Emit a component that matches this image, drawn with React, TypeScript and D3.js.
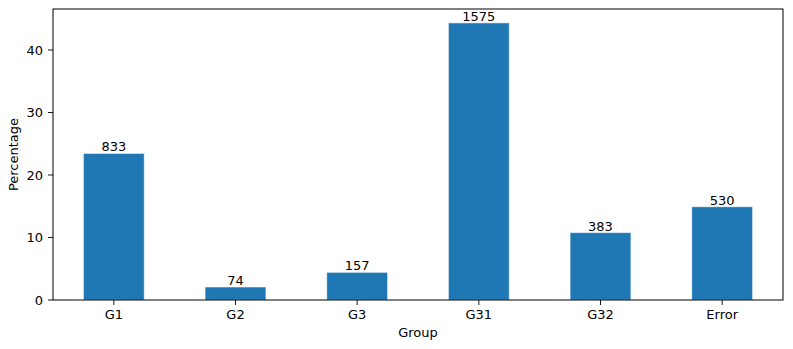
import * as d3 from 'd3';

const groups = ['G1', 'G2', 'G3', 'G31', 'G32', 'Error'];
const percentages = [23.45, 2.08, 4.42, 44.34, 10.78, 14.92];
const counts = [833, 74, 157, 1575, 383, 530];
const yTicks = [0, 10, 20, 30, 40];

const W = 793;
const H = 349;
const m = { left: 53, right: 10, top: 9, bottom: 49 };
const FONT = 'DejaVu Sans, sans-serif';

export default function App() {
  const x = d3.scaleBand().domain(groups).range([m.left, W - m.right]).paddingInner(0.5).paddingOuter(0.25);
  const y = d3.scaleLinear().domain([0, 46.56]).range([H - m.bottom, m.top]);
  const y0 = y(0);

  return (
    <svg width={W} height={H} style={{ position: 'absolute', left: 0, top: 0, fontFamily: FONT }}>
      <rect width={W} height={H} fill="white" />
      {groups.map((g, i) => (
        <g key={g}>
          <rect
            x={x(g)}
            y={y(percentages[i])}
            width={x.bandwidth()}
            height={y0 - y(percentages[i])}
            fill="#1f77b4"
            stroke="rgba(255,255,255,0.55)"
            strokeWidth={1}
          />
          <text x={x(g)! + x.bandwidth() / 2} y={y(percentages[i]) - 2} textAnchor="middle" fontSize={13} fill="#000">
            {counts[i]}
          </text>
          <line x1={x(g)! + x.bandwidth() / 2} x2={x(g)! + x.bandwidth() / 2} y1={y0} y2={y0 + 5} stroke="#000" strokeWidth={0.9} />
          <text x={x(g)! + x.bandwidth() / 2} y={y0 + 19} textAnchor="middle" fontSize={13} fill="#000">
            {g}
          </text>
        </g>
      ))}
      {yTicks.map((t) => (
        <g key={t}>
          <line x1={m.left - 5} x2={m.left} y1={y(t)} y2={y(t)} stroke="#000" strokeWidth={0.9} />
          <text x={m.left - 10} y={y(t)} dy="0.35em" textAnchor="end" fontSize={13} fill="#000">
            {t}
          </text>
        </g>
      ))}
      <rect x={m.left} y={m.top} width={W - m.right - m.left} height={y0 - m.top} fill="none" stroke="#000" strokeWidth={1} />
      <text x={(m.left + W - m.right) / 2} y={337} textAnchor="middle" fontSize={13} fill="#000">
        Group
      </text>
      <text transform={`translate(18,${(m.top + y0) / 2}) rotate(-90)`} textAnchor="middle" fontSize={13} fill="#000">
        Percentage
      </text>
    </svg>
  );
}
